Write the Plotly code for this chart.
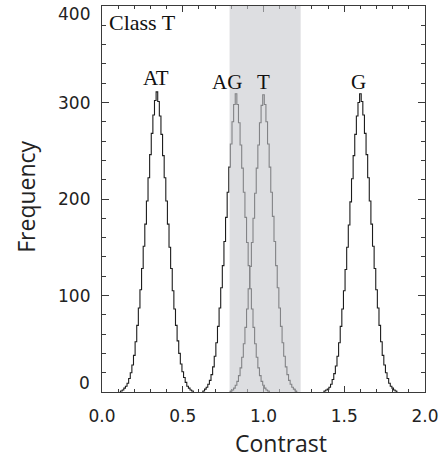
import numpy as np
import plotly.graph_objects as go

# ---------------- data ----------------
bin_width = 0.01

at_first_bin = 0.11
at_counts = [0, 1, 2, 4, 6, 9, 14, 20, 28, 38, 52, 69, 87, 106, 128, 151, 174, 198, 222, 246, 268, 287, 302,
             311,
             301, 286, 267, 245, 222, 198, 174, 150, 128, 105, 86, 69, 53, 40, 29, 21, 15, 10, 6, 4, 2, 1, 0]

ag_first_bin = 0.62
ag_counts = [0, 1, 3, 5, 8, 12, 18, 26, 37, 51, 68, 87, 108, 131, 156, 181, 207, 233, 257, 280, 298,
             309,
             298, 279, 256, 232, 207, 181, 155, 131, 107, 86, 67, 50, 36, 25, 17, 11, 7, 4, 2, 1, 0]

t_first_bin = 0.79
t_counts = [0, 1, 2, 4, 7, 11, 17, 25, 36, 50, 67, 86, 107, 130, 155, 180, 206, 232, 256, 279, 297,
            308,
            298, 280, 257, 233, 207, 182, 156, 131, 108, 87, 68, 51, 37, 26, 18, 12, 8, 5, 3, 1, 0]

g_first_bin = 1.37
g_counts = [0, 1, 2, 3, 5, 8, 13, 19, 27, 37, 51, 68, 86, 105, 127, 150, 173, 197, 221, 245, 267, 286, 300,
            309,
            301, 287, 268, 246, 222, 198, 174, 151, 128, 106, 87, 69, 52, 38, 28, 20, 14, 9, 6, 4, 2, 1, 0]

peak_labels = ["AT", "AG", "T", "G"]
peak_label_x = [0.337, 0.777, 1.0, 1.591]
peak_label_y = [311, 307, 307, 307]

band_range = [0.79, 1.23]
class_label = "Class T"

x_tick_vals = [0.0, 0.5, 1.0, 1.5, 2.0]
x_tick_text = ["0.0", "0.5", "1.0", "1.5", "2.0"]
y_tick_vals = [0, 100, 200, 300, 400]
y_tick_text = ["0", "100", "200", "300", "400"]
x_title = "Contrast"
y_title = "Frequency"

# ---------------- figure ----------------
fig = go.Figure()
line_col = "#1c1c1c"
for first, counts in [(at_first_bin, at_counts), (ag_first_bin, ag_counts),
                      (t_first_bin, t_counts), (g_first_bin, g_counts)]:
    xs = first + bin_width * np.arange(len(counts))
    fig.add_trace(go.Scatter(x=xs, y=counts, mode="lines", line_shape="hvh",
                             line=dict(color=line_col, width=1.1),
                             hoverinfo="skip", showlegend=False))

fig.add_shape(type="rect", xref="x", yref="y", x0=band_range[0], x1=band_range[1], y0=0, y1=400,
              fillcolor="rgb(198,200,205)", opacity=0.6, line=dict(width=0), layer="above")

serif = "Liberation Serif, Times New Roman, serif"
for txt, xv, yv in zip(peak_labels, peak_label_x, peak_label_y):
    fig.add_annotation(x=xv, y=yv, xref="x", yref="y", text=txt, showarrow=False,
                       xanchor="center", yanchor="bottom",
                       font=dict(family=serif, size=21, color="#111"))

fig.add_annotation(x=0.0, y=400, xref="x", yref="y", text=class_label, showarrow=False,
                   xanchor="left", yanchor="top", xshift=5, yshift=-2,
                   font=dict(family=serif, size=22, color="#111"))

# y tick labels (end labels nudged inside the frame as in the original)
for val, txt in zip(y_tick_vals, y_tick_text):
    shift = 9 if val == y_tick_vals[0] else (-8 if val == y_tick_vals[-1] else 0)
    fig.add_annotation(x=0, y=val, xref="paper", yref="y", text=txt, showarrow=False,
                       xanchor="right", yanchor="middle", xshift=-10, yshift=shift,
                       font=dict(family="DejaVu Sans", size=17, color="#222"))

title_font = dict(family="Open Sans", size=23, color="#222")
fig.add_annotation(x=-0.235, y=0.506, xref="paper", yref="paper", text=y_title, textangle=-90,
                   showarrow=False, xanchor="center", yanchor="middle", font=title_font)
fig.add_annotation(x=0.554, y=-0.132, xref="paper", yref="paper", text=x_title,
                   showarrow=False, xanchor="center", yanchor="middle", font=title_font)

axis_col = "#3a3a3a"
fig.update_xaxes(range=[0, 2], showgrid=False, zeroline=False,
                 showline=True, linecolor=axis_col, linewidth=1, mirror="ticks",
                 ticks="inside", ticklen=6, tickcolor=axis_col, tickwidth=1,
                 tickvals=x_tick_vals, ticktext=x_tick_text,
                 minor=dict(dtick=0.1, ticks="inside", ticklen=3, tickcolor=axis_col, showgrid=False),
                 tickfont=dict(family="DejaVu Sans", size=17, color="#222"),
                 ticklabelstandoff=9)
fig.update_yaxes(range=[0, 400], showgrid=False, zeroline=False,
                 showline=True, linecolor=axis_col, linewidth=1, mirror="ticks",
                 ticks="inside", ticklen=7, tickcolor=axis_col, tickwidth=1,
                 tickvals=y_tick_vals, showticklabels=False,
                 minor=dict(dtick=20, ticks="inside", ticklen=4, tickcolor=axis_col, showgrid=False))

fig.update_layout(width=445, height=471, margin=dict(l=102, r=20, t=6, b=79),
                  plot_bgcolor="white", paper_bgcolor="white")

fig.write_html("out.html", config={"displayModeBar": False},
               post_script="document.body.style.margin='0px';")
